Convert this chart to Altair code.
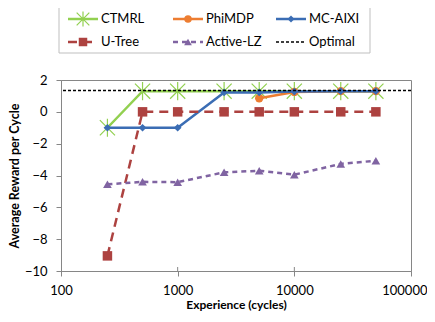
import altair as alt
import pandas as pd

experience = [250, 500, 1000, 2500, 5000, 10000, 25000, 50000]
ctmrl = [-1.0, 1.3, 1.3, 1.3, 1.3, 1.3, 1.3, 1.3]
phimdp_x = [5000, 10000, 25000, 50000]
phimdp = [0.85, 1.25, 1.3, 1.3]
mcaixi = [-1.0, -1.0, -1.0, 1.22, 1.22, 1.27, 1.3, 1.3]
utree = [-9.05, 0.0, 0.0, 0.0, 0.0, 0.0, 0.0, 0.0]
activelz = [-4.55, -4.4, -4.42, -3.8, -3.7, -3.95, -3.27, -3.07]
optimal = 1.34

x_ticks = [100, 1000, 10000, 100000]
y_ticks = [-10, -8, -6, -4, -2, 0, 2]

FONT = "Lato"
GREEN = "#92D050"
ORANGE = "#ED7D31"
BLUE = "#3B6DB4"
RED = "#AD4240"
PURPLE = "#8064A2"

STAR = "M-1,-1L1,1M-1,1L1,-1M0,-1.2L0,1.2"

series = [
    ("CTMRL", experience, ctmrl, GREEN, [], STAR, 230, False),
    ("PhiMDP", phimdp_x, phimdp, ORANGE, [], "circle", 70, True),
    ("MC-AIXI", experience, mcaixi, BLUE, [], "diamond", 60, True),
    ("U-Tree", experience, utree, RED, [9, 6], "square", 90, True),
    ("Active-LZ", experience, activelz, PURPLE, [5, 4], "triangle-up", 75, True),
]

xscale = alt.Scale(type="log", domain=[100, 100000])
yscale = alt.Scale(domain=[-10, 2], nice=False)

xaxis = alt.Axis(values=x_ticks, format="d", title="Experience (cycles)", grid=False,
                 domainColor="#868686", tickColor="#868686", tickSize=5, labelPadding=8,
                 labelFont=FONT, labelFontSize=13, labelColor="#000",
                 labelAlign=alt.expr("datum.value >= 100000 ? 'right' : 'center'"),
                 labelOffset=alt.expr("datum.value >= 100000 ? 16 : 0"),
                 titleFont=FONT, titleFontSize=12, titleFontWeight="bold", titleColor="#000",
                 titlePadding=2, labelFlush=False)
yaxis = alt.Axis(values=y_ticks, title="Average Reward per Cycle", grid=False,
                 domainColor="#868686", tickColor="#868686", tickSize=5, labelPadding=9,
                 labelFont=FONT, labelFontSize=13, labelColor="#000",
                 titleFont=FONT, titleFontSize=12.5, titleFontWeight="bold", titleColor="#000",
                 titlePadding=3)


def X(field="x"):
    return alt.X(f"{field}:Q", scale=xscale, axis=xaxis)


def Y(field="y"):
    return alt.Y(f"{field}:Q", scale=yscale, axis=yaxis)


layers = []
for name, xs, ys, color, dash, shape, size, filled in series:
    df = pd.DataFrame({"x": xs, "y": ys})
    line_kwargs = dict(color=color, strokeWidth=2.5)
    if dash:
        line_kwargs["strokeDash"] = dash
    layers.append(alt.Chart(df).mark_line(**line_kwargs).encode(x=X(), y=Y()))
    if filled:
        pt = alt.Chart(df).mark_point(shape=shape, size=size, filled=True, color=color, opacity=1)
    else:
        pt = alt.Chart(df).mark_point(shape=shape, size=size, filled=False, color=color,
                                      strokeWidth=1.2, opacity=1)
    layers.append(pt.encode(x=X(), y=Y()))

opt_df = pd.DataFrame({"y": [optimal]})
layers.append(alt.Chart(opt_df).mark_rule(color="#000", strokeWidth=1.5, strokeDash=[3, 2])
              .encode(y=Y()))

# small inner tick marks crossing the x axis
tick_df = pd.DataFrame({"x": x_ticks[1:-1]})
layers.append(alt.Chart(tick_df).mark_rule(color="#868686").encode(
    x=X(), y=alt.value(187), y2=alt.value(191)))

# manual legend
legend_names = ["CTMRL", "PhiMDP", "MC-AIXI", "U-Tree", "Active-LZ", "Optimal"]
col_x = [7, 112, 215]
row_y = [-61, -38]
layers.append(alt.Chart(pd.DataFrame({"a": [0]})).mark_rect(
    fill="white", stroke="#BFBFBF", strokeWidth=1).encode(
    x=alt.value(-2), x2=alt.value(309), y=alt.value(-73), y2=alt.value(-27)))
styles = {s[0]: s for s in series}
for i, name in enumerate(legend_names):
    cx = col_x[i % 3]
    cy = row_y[i // 3]
    if name == "Optimal":
        color, dash, shape, size, filled = "#000", [3, 2], None, 0, True
        sw = 1.5
    else:
        _, _, _, color, dash, shape, size, filled = styles[name]
        sw = 2.5
    rk = dict(color=color, strokeWidth=sw)
    if dash:
        rk["strokeDash"] = dash
    layers.append(alt.Chart(pd.DataFrame({"a": [0]})).mark_rule(**rk).encode(
        x=alt.value(cx), x2=alt.value(cx + 30), y=alt.value(cy)))
    if shape:
        psize = size * 0.8 if name != "CTMRL" else 160
        layers.append(alt.Chart(pd.DataFrame({"a": [0]})).mark_point(
            shape=shape, size=psize, filled=filled, color=color, opacity=1,
            strokeWidth=1.2).encode(x=alt.value(cx + 15), y=alt.value(cy)))
    layers.append(alt.Chart(pd.DataFrame({"a": [0]})).mark_text(
        text=name, align="left", baseline="middle", font=FONT, fontSize=13, color="#000").encode(
        x=alt.value(cx + 33), y=alt.value(cy)))

chart = alt.layer(*layers).properties(
    width=350, height=191,
    autosize=alt.AutoSizeParams(type="none"),
    padding={"left": 53, "top": 72, "right": 16, "bottom": 43},
).configure_view(stroke="#868686", strokeWidth=1)

chart.save("out.html", embed_options={"renderer": "svg", "actions": False})
